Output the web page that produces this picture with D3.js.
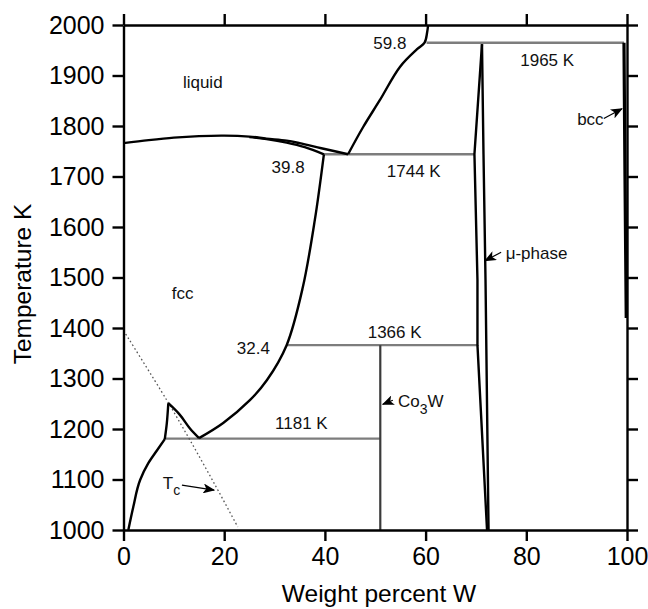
<!DOCTYPE html>
<html>
<head>
<meta charset="utf-8">
<script src="https://cdn.jsdelivr.net/npm/d3@7"></script>
<style>
  body { margin: 0; background: #fff; }
  svg { font-family: "Liberation Sans", Arial, Helvetica, sans-serif; }
</style>
</head>
<body>
<div id="chart"></div>
<script>
(function (d3) {
  'use strict';

  const width = 648;
  const height = 609;

  // phase boundaries, [weight % W, temperature K]
  const liquidusLeft = [[0, 1766], [5, 1772], [10, 1777], [15, 1780], [20, 1781], [25, 1779],
    [28.4, 1775], [32.4, 1771], [35, 1766], [39.3, 1756], [44.6, 1744]];
  const solidusFcc = [[25, 1778], [28.4, 1774], [32.4, 1767], [36, 1758], [39.8, 1744]];
  const liquidusRight = [[44.6, 1744], [47.6, 1798], [50.9, 1851], [54.9, 1917], [58.3, 1952],
    [59.8, 1965], [60.3, 1985], [60.5, 2000]];
  const solvusFcc = [[39.8, 1744], [38.0, 1614], [35.6, 1480], [32.4, 1366], [28.5, 1297],
    [25.1, 1257], [19.8, 1212], [15.0, 1182]];
  const cuspRight = [[8.9, 1251], [11.2, 1228], [13.2, 1201], [15.0, 1182]];
  const cuspLeft = [[8.2, 1180], [8.6, 1211], [8.9, 1251]];
  const hcpBoundary = [[0.96, 1000], [1.95, 1046], [3.3, 1099], [4.9, 1132], [6.6, 1157], [8.2, 1180]];
  const muLeft = [[71.2, 1962], [69.7, 1744], [70.3, 1495], [70.3, 1366], [72.2, 1000]];
  const muRight = [[71.2, 1962], [71.5, 1744], [71.9, 1495], [72.5, 1000]];
  const bccBoundary = [[99.4, 1965], [99.6, 1700], [99.85, 1420]];
  const co3w = [[51.0, 1366], [51.0, 1000]];
  const curieLine = [[0, 1395], [8.6, 1257], [13.2, 1178], [18.2, 1089], [22.7, 1006]];

  // invariant lines: [from wt, to wt, T]
  const isotherms = [[60.2, 99.4, 1965], [39.8, 69.7, 1744], [32.4, 70.3, 1366], [8.2, 51.0, 1181]];

  // labels: [text, wt, T, anchor]
  const labels = [
    ["liquid", 11.8, 1875, "start"],
    ["fcc", 9.6, 1457, "start"],
    ["59.8", 56.2, 1953, "end"],
    ["1965 K", 78.8, 1919, "start"],
    ["bcc", 90.1, 1802, "start"],
    ["1744 K", 52.3, 1699, "start"],
    ["39.8", 29.4, 1707, "start"],
    ["\u03bc-phase", 75.9, 1536, "start"],
    ["32.4", 22.5, 1348, "start"],
    ["1366 K", 48.5, 1380, "start"],
    ["1181 K", 30.1, 1200, "start"]
  ];

  // arrows: [from wt, from T, to wt, to T]
  const arrows = [
    [95.4, 1815, 99.0, 1834],
    [75.0, 1550, 71.8, 1533],
    [53.5, 1257, 51.5, 1249],
    [11.6, 1089, 18.0, 1079]
  ];

  const xTicks = [0, 20, 40, 60, 80, 100];
  const yTicks = [1000, 1100, 1200, 1300, 1400, 1500, 1600, 1700, 1800, 1900, 2000];

  const x = d3.scaleLinear().domain([0, 100]).range([123.5, 627]);
  const y = d3.scaleLinear().domain([1000, 2000]).range([530, 25]);

  const svg = d3.select("#chart").append("svg")
    .attr("width", width)
    .attr("height", height);

  svg.append("defs").append("marker")
    .attr("id", "head")
    .attr("viewBox", "0 0 12 10")
    .attr("refX", 11)
    .attr("refY", 5)
    .attr("markerWidth", 12)
    .attr("markerHeight", 10)
    .attr("markerUnits", "userSpaceOnUse")
    .attr("orient", "auto")
    .append("path")
    .attr("d", "M0,0 L12,5 L0,10 L3,5 Z")
    .attr("fill", "#000");

  const line = d3.line()
    .x(d => x(d[0]))
    .y(d => y(d[1]));
  const smooth = d3.line()
    .curve(d3.curveCatmullRom.alpha(0.5))
    .x(d => x(d[0]))
    .y(d => y(d[1]));
  const smoothY = d3.line()
    .curve(d3.curveMonotoneY)
    .x(d => x(d[0]))
    .y(d => y(d[1]));

  // isotherms (gray)
  svg.selectAll(".iso")
    .data(isotherms)
    .enter()
    .append("line")
    .attr("x1", d => x(d[0]))
    .attr("x2", d => x(d[1]))
    .attr("y1", d => y(d[2]))
    .attr("y2", d => y(d[2]))
    .style("stroke", "#7d7d7d")
    .style("stroke-width", 2.4);

  svg.append("path")
    .datum(co3w)
    .attr("d", line)
    .style("fill", "none")
    .style("stroke", "#3a3a3a")
    .style("stroke-width", 2.2);

  // Curie temperature
  svg.append("path")
    .datum(curieLine)
    .attr("d", smooth)
    .style("fill", "none")
    .style("stroke", "#555")
    .style("stroke-width", 1.3)
    .style("stroke-dasharray", "1.6,2.6");

  const curves = [liquidusLeft, solidusFcc, liquidusRight, solvusFcc, cuspRight, cuspLeft];
  svg.selectAll(".curve")
    .data(curves)
    .enter()
    .append("path")
    .attr("d", smooth)
    .style("fill", "none")
    .style("stroke", "#000")
    .style("stroke-width", 2.4)
    .style("stroke-linejoin", "round");

  svg.append("path")
    .datum(hcpBoundary)
    .attr("d", smoothY)
    .style("fill", "none")
    .style("stroke", "#000")
    .style("stroke-width", 2.4);

  svg.selectAll(".mu")
    .data([muLeft, muRight])
    .enter()
    .append("path")
    .attr("d", line)
    .style("fill", "none")
    .style("stroke", "#000")
    .style("stroke-width", 2.4)
    .style("stroke-linejoin", "round");

  svg.append("path")
    .datum(bccBoundary)
    .attr("d", line)
    .style("fill", "none")
    .style("stroke", "#000")
    .style("stroke-width", 3.2);

  // axes on all four sides
  const axisStyle = g => {
    g.selectAll(".domain").style("stroke-width", 2.4);
    g.selectAll(".tick line").style("stroke-width", 2.4);
    g.selectAll(".tick text").style("font-size", "25px").style("fill", "#000");
  };

  svg.append("g")
    .attr("transform", "translate(0," + y(1000) + ")")
    .call(d3.axisBottom(x).tickValues(xTicks).tickSize(11).tickSizeOuter(0).tickPadding(6).tickFormat(d3.format("d")))
    .call(axisStyle)
    .attr("font-family", null);

  svg.append("g")
    .attr("transform", "translate(0," + y(2000) + ")")
    .call(d3.axisTop(x).tickValues(xTicks).tickSize(11).tickSizeOuter(0).tickFormat(""))
    .call(axisStyle);

  svg.append("g")
    .attr("transform", "translate(" + x(0) + ",0)")
    .call(d3.axisLeft(y).tickValues(yTicks).tickSize(11).tickSizeOuter(0).tickPadding(8).tickFormat(d3.format("d")))
    .call(axisStyle)
    .attr("font-family", null);

  svg.append("g")
    .attr("transform", "translate(" + x(100) + ",0)")
    .call(d3.axisRight(y).tickValues(yTicks).tickSize(11).tickSizeOuter(0).tickFormat(""))
    .call(axisStyle);

  // labels
  svg.selectAll(".lbl")
    .data(labels)
    .enter()
    .append("text")
    .attr("x", d => x(d[1]))
    .attr("y", d => y(d[2]))
    .attr("text-anchor", d => d[3])
    .style("font-size", "17px")
    .style("fill", "#111")
    .text(d => d[0]);

  const co = svg.append("text")
    .attr("x", x(54.5))
    .attr("y", y(1243))
    .style("font-size", "17px")
    .style("fill", "#111");
  co.append("tspan").text("Co");
  co.append("tspan").attr("dy", 7).style("font-size", "14px").text("3");
  co.append("tspan").attr("dy", -7).text("W");

  const tc = svg.append("text")
    .attr("x", x(7.8))
    .attr("y", y(1081))
    .style("font-size", "17px")
    .style("fill", "#111");
  tc.append("tspan").text("T");
  tc.append("tspan").attr("dy", 6).style("font-size", "14px").text("c");

  svg.selectAll(".arrow")
    .data(arrows)
    .enter()
    .append("line")
    .attr("x1", d => x(d[0]))
    .attr("y1", d => y(d[1]))
    .attr("x2", d => x(d[2]))
    .attr("y2", d => y(d[3]))
    .style("stroke", "#000")
    .style("stroke-width", 1.2)
    .attr("marker-end", "url(#head)");

  // axis titles
  svg.append("text")
    .attr("x", 379)
    .attr("y", 602)
    .attr("text-anchor", "middle")
    .style("font-size", "24.5px")
    .text("Weight percent W");

  svg.append("text")
    .attr("transform", "translate(31,284) rotate(-90)")
    .attr("text-anchor", "middle")
    .style("font-size", "24.5px")
    .text("Temperature K");

}(d3));
</script>
</body>
</html>
